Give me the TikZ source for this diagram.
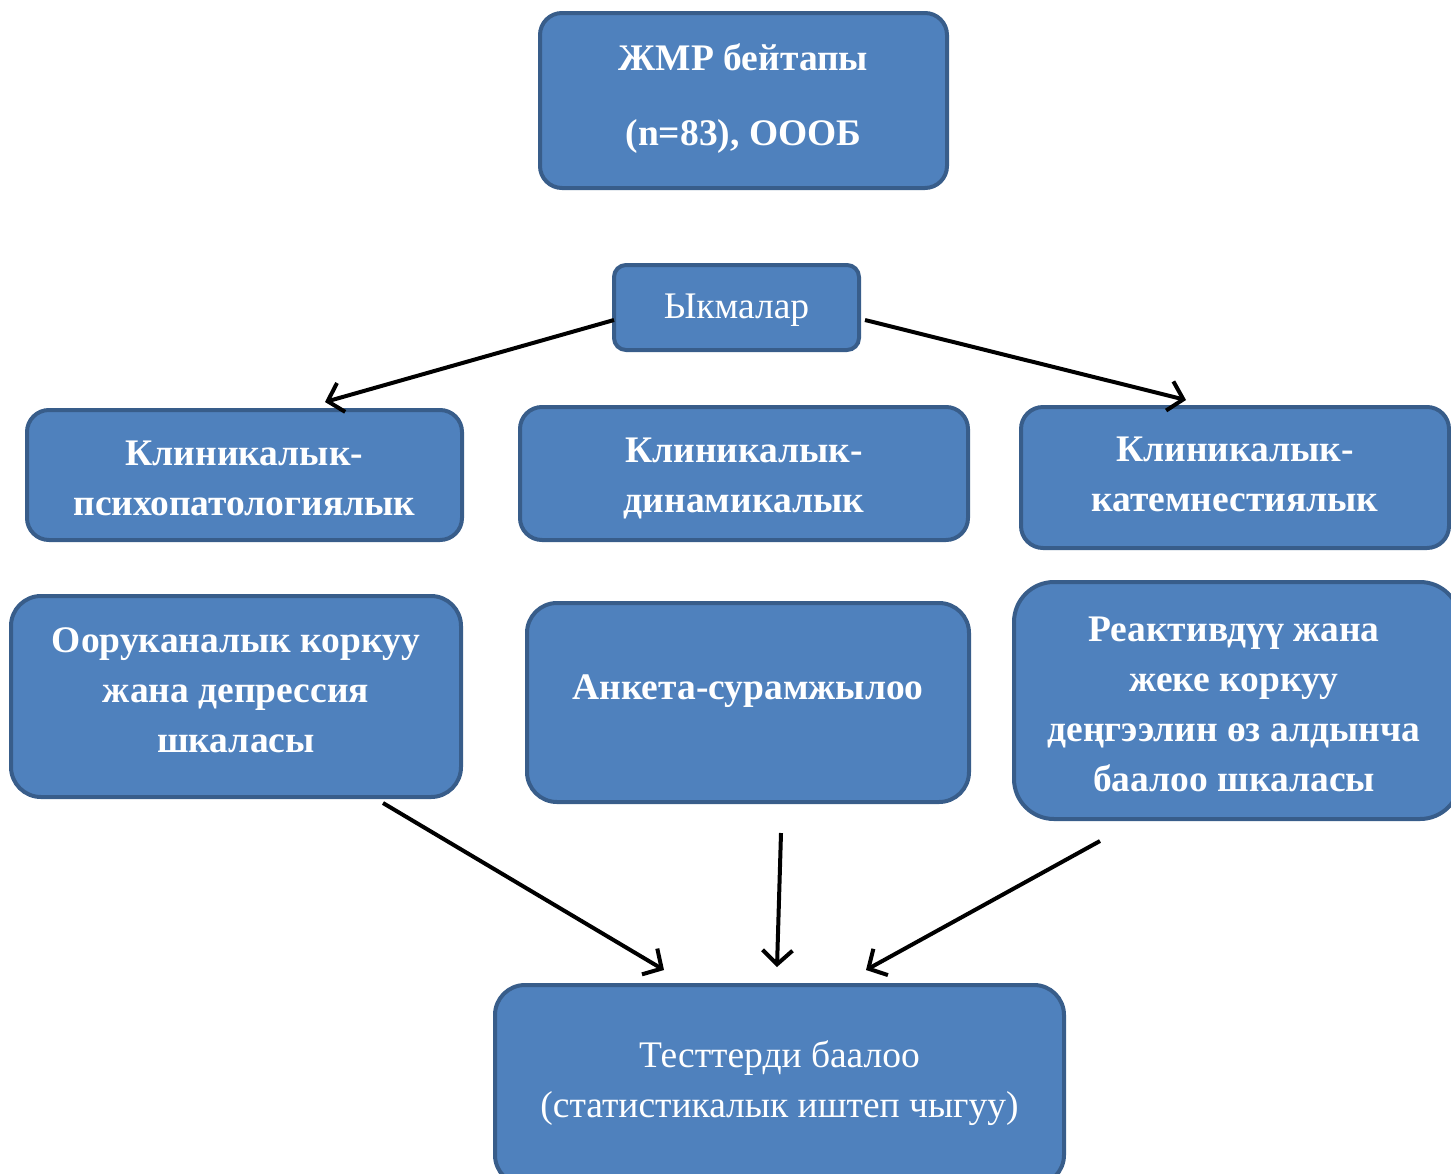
\documentclass[tikz,border=0pt]{standalone}
\usepackage{fontspec}
\setmainfont{Liberation Serif}
\usetikzlibrary{arrows.meta}
\definecolor{boxfill}{HTML}{4F81BD}
\definecolor{boxline}{HTML}{385D8A}
\tikzset{
  box/.style={draw=boxline, fill=boxfill, line width=4pt, rounded corners=#1, inner sep=0pt},
  box/.default=22pt,
  bigtxt/.style={text=white, align=center, inner sep=0pt, font=\fontsize{37.5}{50}\selectfont\bfseries},
  regtxt/.style={text=white, align=center, inner sep=0pt, font=\fontsize{37.5}{50}\selectfont},
  conn/.style={line width=4pt, -{Straight Barb[length=14pt,width=30pt,line width=4pt]}}
}
\begin{document}
\begin{tikzpicture}[x=1pt,y=-1pt]
\useasboundingbox (0,0) rectangle (1451,1173);
% boxes
\node[box, minimum width=407pt, minimum height=175pt] (top) at (743.5,100.5) {};
\node[bigtxt] (topt) at ([yshift=2pt]top.center) {ЖМР бейтапы\\[25pt](n=83), ОООБ};
\node[box=12pt, minimum width=245pt, minimum height=85pt] (met) at (736.5,307.5) {};
\node[regtxt] (mett) at ([yshift=-3pt]met.center) {Ыкмалар};
\node[box, minimum width=435pt, minimum height=130pt] (k1) at (244.5,475) {};
\node[bigtxt] (k1t) at ([yshift=-3pt]k1.center) {Клиникалык-\\психопатологиялык};
\node[box, minimum width=448pt, minimum height=133pt] (k2) at (744,473.5) {};
\node[bigtxt] (k2t) at ([yshift=-5pt]k2.center) {Клиникалык-\\динамикалык};
\node[box, minimum width=428pt, minimum height=141pt] (k3) at (1235,477.5) {};
\node[bigtxt] (k3t) at ([yshift=3pt]k3.center) {Клиникалык-\\катемнестиялык};
\node[box=30pt, minimum width=450pt, minimum height=201pt] (s1) at (236,696.5) {};
\node[bigtxt] (s1t) at ([yshift=6pt]s1.center) {Ооруканалык коркуу\\жана депрессия\\шкаласы};
\node[box=30pt, minimum width=442pt, minimum height=199pt] (s2) at (748,702.5) {};
\node[bigtxt] (s2t) at (748,691) {Анкета-сурамжылоо};
\node[box=40pt, minimum width=446pt, minimum height=237pt] (s3) at (1237,700.5) {};
\node[bigtxt] (s3t) at ([xshift=-3pt,yshift=-4pt]s3.center) {Реактивдүү жана\\жеке коркуу\\деңгээлин өз алдынча\\баалоо шкаласы};
\node[box=30pt, minimum width=569pt, minimum height=200pt] (res) at (779.5,1085) {};
\node[regtxt] (rest) at ([yshift=2pt]res.center) {Тесттерди баалоо\\(статистикалык иштеп чыгуу)};
% connector ends
\coordinate (a1s) at (614,320); \coordinate (a1e) at (325,402);
\coordinate (a2s) at (865,320); \coordinate (a2e) at (1186,400);
\coordinate (a3s) at (383,803); \coordinate (a3e) at (664,970);
\coordinate (a4s) at (781,833); \coordinate (a4e) at (777,967);
\coordinate (a5s) at (1100,841); \coordinate (a5e) at (866,970);
\draw[conn] (a1s) -- (a1e);
\draw[conn] (a2s) -- (a2e);
\draw[conn] (a3s) -- (a3e);
\draw[conn] (a4s) -- (a4e);
\draw[conn] (a5s) -- (a5e);
\end{tikzpicture}
\end{document}
